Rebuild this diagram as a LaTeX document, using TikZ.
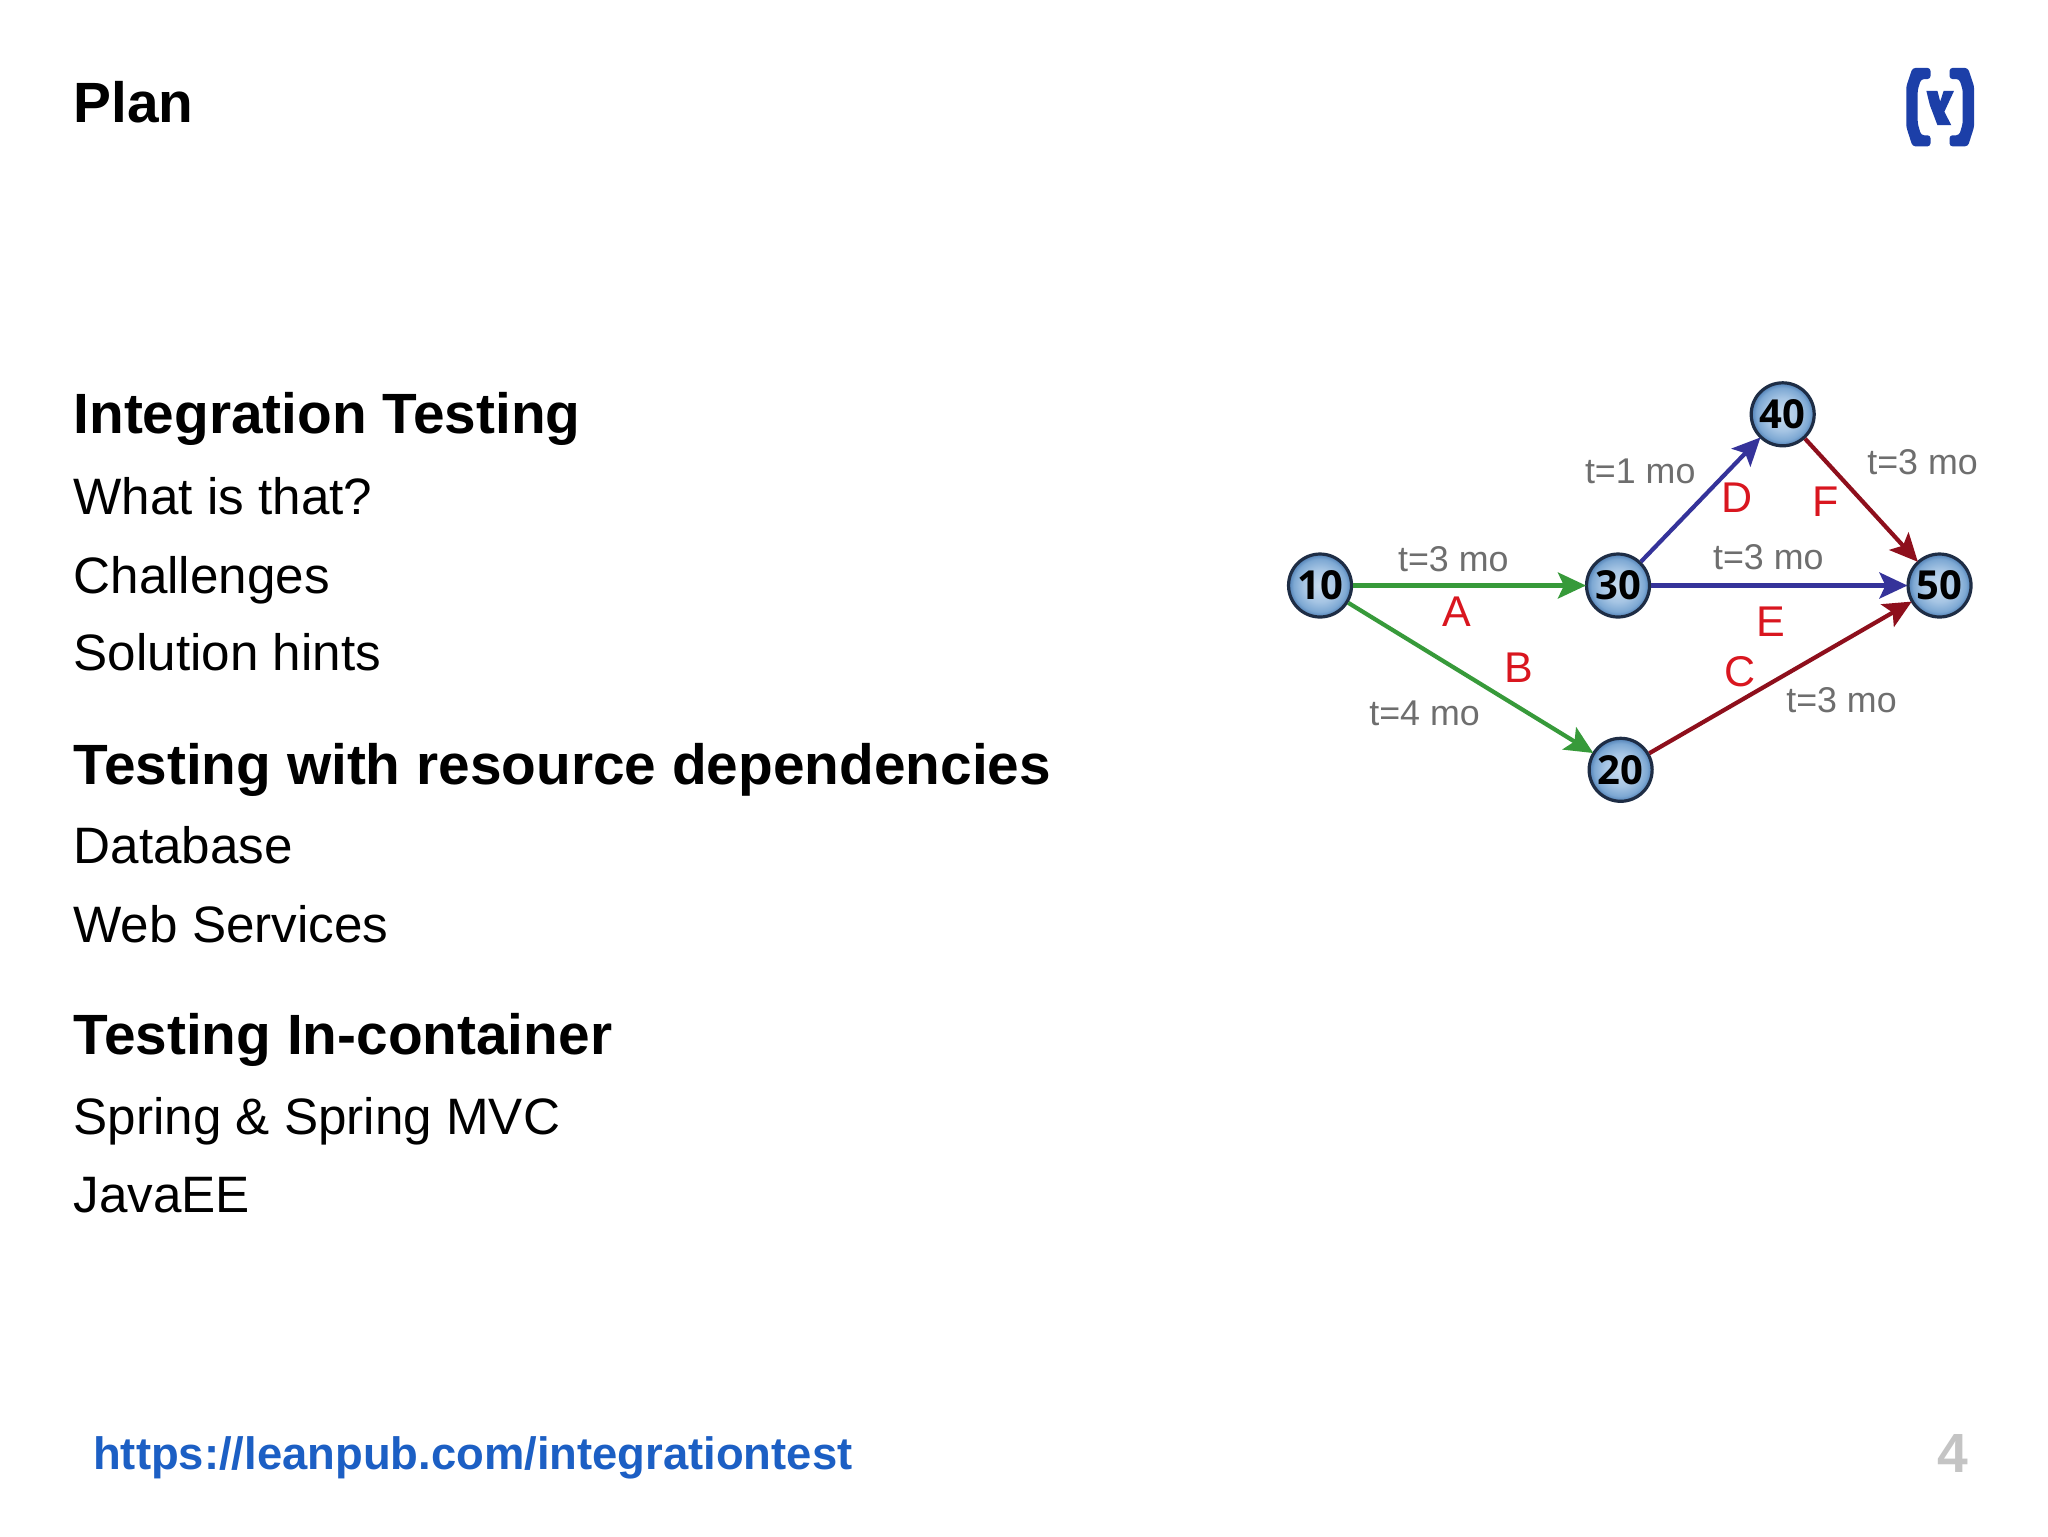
\documentclass[tikz,border=0pt]{standalone}
\usepackage{fontspec}
\setmainfont{Liberation Sans}
\newfontfamily\ballfont{Open Sans}
\usetikzlibrary{arrows.meta,shadings}
\definecolor{linkblue}{HTML}{1C5FC4}
\definecolor{pagenum}{HTML}{C4C4C4}
\definecolor{logoblue}{HTML}{1C3FA8}
\definecolor{ggreen}{HTML}{379A3A}
\definecolor{gblue}{HTML}{35339A}
\definecolor{gred}{HTML}{8E0F1C}
\definecolor{glabel}{HTML}{6E6E6E}
\definecolor{gletter}{HTML}{D9161F}
\definecolor{ballrim}{HTML}{1E2D45}
\definecolor{ballhi}{HTML}{C8DCEF}
\definecolor{ballmid}{HTML}{A6C5E4}
\definecolor{ballout}{HTML}{7DA8D3}
\definecolor{ballrimin}{HTML}{4F7FB5}
\pgfdeclareradialshading{ballshade}{\pgfpoint{0pt}{0pt}}{color(0bp)=(ballhi); color(13bp)=(ballmid); color(21bp)=(ballout); color(25bp)=(ballrimin); color(50bp)=(ballrimin)}
\tikzset{
  head/.style={anchor=base west,inner sep=0pt,font=\fontsize{28.4}{34}\selectfont\bfseries},
  body/.style={anchor=base west,inner sep=0pt,font=\fontsize{25.6}{30}\selectfont},
  ball/.style={circle,draw=ballrim,line width=1.6pt,minimum size=31.5pt,inner sep=0pt,shading=ballshade,font=\ballfont\fontsize{20}{24}\selectfont\bfseries,text=black},
  tlabel/.style={inner sep=0pt,text=glabel,font=\fontsize{17.9}{20}\selectfont},
  letter/.style={inner sep=0pt,text=gletter,font=\fontsize{21.5}{24}\selectfont},
  edge/.style={line width=2.1pt,-{Stealth[length=14pt,width=13pt,inset=3pt]},shorten >=-0.5pt},
}
\begin{document}
\begin{tikzpicture}[x=0.6535pt,y=-0.6535pt]
\useasboundingbox[fill=white] (0,0) rectangle (1567,1175.3);
\node[head] (plan) at (56,94) {Plan};
\node[head] (h1) at (56,332) {Integration Testing};
\node[body] (b1) at (56,394) {What is that?};
\node[body] (b2) at (56,454) {Challenges};
\node[body] (b3) at (56,513) {Solution hints};
\node[head] (h2) at (56,600) {Testing with resource dependencies};
\node[body] (b4) at (56,661) {Database};
\node[body] (b5) at (56,721) {Web Services};
\node[head] (h3) at (56,807) {Testing In-container};
\node[body] (b6) at (56,868) {Spring \& Spring MVC};
\node[body] (b7) at (56,928) {JavaEE};
\node[anchor=base west,inner sep=0pt,text=linkblue,font=\fontsize{22.7}{28}\selectfont\bfseries] (url) at (71,1124) {https://leanpub.com/integrationtest};
\node[anchor=base east,inner sep=0pt,text=pagenum,font=\fontsize{27.6}{32}\selectfont\bfseries] (num) at (1506,1127) {4};
% logo
\begin{scope}[shift={(1436.8,30.1)},xscale=0.265,yscale=0.2575]
\fill[logoblue,rounded corners=1.5pt] (152,85)--(100,85)--(82,140)--(82,260)--(100,318)--(152,318)--(152,285)--(125,285)--(115,250)--(115,150)--(125,118)--(152,118)--cycle;
\fill[logoblue,rounded corners=1.5pt] (207,85)--(260,85)--(278,140)--(278,260)--(260,318)--(207,318)--(207,285)--(235,285)--(245,250)--(245,150)--(235,118)--(207,118)--cycle;
\fill[logoblue] (140,153)--(172,153)--(180,185)--(190,153)--(220,153)--(192,215)--(212,255)--(172,255)--(150,195)--cycle;
\end{scope}
% diagram
\node[ball] (n10) at (1010,448) {10};
\node[ball] (n30) at (1238,448) {30};
\node[ball] (n40) at (1364,317) {40};
\node[ball] (n50) at (1484,448) {50};
\node[ball] (n20) at (1240,589) {20};
\draw[edge,ggreen] (n10) -- (n30);
\draw[edge,ggreen] (n10) -- (n20);
\draw[edge,gblue] (n30) -- (n40);
\draw[edge,gblue] (n30) -- (n50);
\draw[edge,gred] (n40) -- (n50);
\draw[edge,gred] (n20) -- (n50);
\node[tlabel] (t1) at (1112,428) {t=3 mo};
\node[tlabel] (t2) at (1090,546) {t=4 mo};
\node[tlabel] (t3) at (1255,361) {t=1 mo};
\node[tlabel] (t4) at (1353,426) {t=3 mo};
\node[tlabel] (t5) at (1471,354) {t=3 mo};
\node[tlabel] (t6) at (1409,536) {t=3 mo};
\node[letter] (la) at (1115,468) {A};
\node[letter] (lb) at (1162,511) {B};
\node[letter] (lc) at (1331,514) {C};
\node[letter] (ld) at (1329,381) {D};
\node[letter] (le) at (1355,476) {E};
\node[letter] (lf) at (1397,384) {F};
\end{tikzpicture}
\end{document}
